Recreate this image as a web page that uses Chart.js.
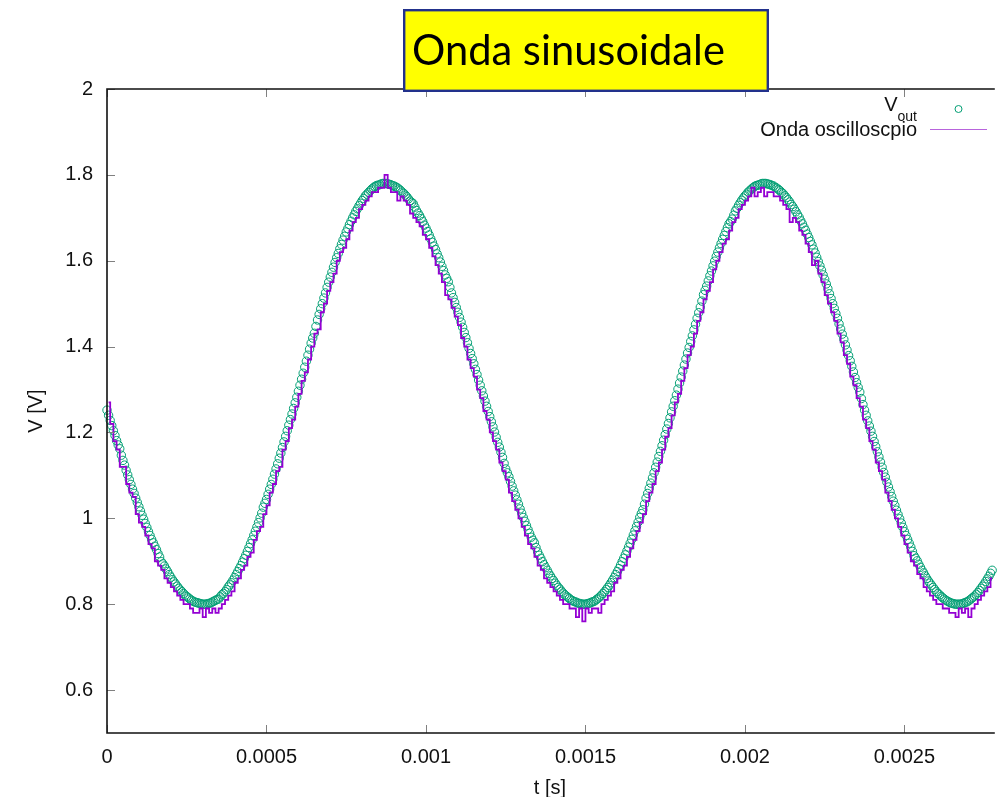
<!DOCTYPE html>
<html><head><meta charset="utf-8">
<script src="https://cdn.jsdelivr.net/npm/chart.js@4.4.1/dist/chart.umd.min.js"></script>
<style>
html,body{margin:0;padding:0;background:#fff;overflow:hidden;}
#c{display:block;}
</style></head>
<body>
<canvas id="c" width="998" height="797"></canvas>
<script>
// ---- data ----
const chartTitle = 'Onda sinusoidale';
const xTitle = 't [s]';
const yTitle = 'V [V]';
const seriesNames = ['V_out', 'Onda oscilloscpio'];
const vOutStepS = 0.000005;       // V_out sampling step (s)
const scopeStepS = 0.00001;       // scope trace sampling step (s)
const scopeOffsetS = 0.000005;    // scope trace first sample (s)
const xTickStep = 0.0005;
const yTickStep = 0.2;
const xRange = [0, 0.002777];
const yRange = [0.5, 2];

// V_out samples (V), t = 0, 5us, 10us ...
const vOut = [
1.252,1.240,1.228,1.216,1.204,1.193,1.181,1.171,1.162,1.147,
1.135,1.124,1.112,1.101,1.090,1.079,1.068,1.058,1.047,1.037,
1.027,1.017,1.007,0.998,0.988,0.979,0.969,0.960,0.951,0.943,
0.935,0.927,0.918,0.910,0.899,0.894,0.889,0.882,0.876,0.869,
0.863,0.857,0.852,0.847,0.842,0.837,0.833,0.829,0.825,0.821,
0.818,0.815,0.812,0.809,0.807,0.805,0.804,0.803,0.802,0.801,
0.800,0.800,0.800,0.801,0.802,0.803,0.805,0.807,0.809,0.811,
0.812,0.817,0.822,0.825,0.829,0.834,0.840,0.845,0.850,0.856,
0.862,0.869,0.876,0.883,0.890,0.898,0.906,0.914,0.923,0.932,
0.941,0.950,0.960,0.970,0.980,0.990,1.001,1.012,1.026,1.035,
1.044,1.056,1.068,1.079,1.091,1.103,1.115,1.127,1.140,1.152,
1.165,1.178,1.191,1.204,1.217,1.230,1.243,1.256,1.269,1.282,
1.296,1.310,1.324,1.338,1.352,1.366,1.380,1.394,1.408,1.420,
1.431,1.447,1.462,1.475,1.488,1.500,1.513,1.525,1.538,1.550,
1.562,1.573,1.585,1.596,1.607,1.617,1.628,1.638,1.648,1.657,
1.667,1.675,1.684,1.692,1.700,1.707,1.715,1.721,1.728,1.734,
1.740,1.745,1.751,1.755,1.759,1.763,1.767,1.770,1.773,1.775,
1.776,1.777,1.779,1.780,1.780,1.780,1.779,1.778,1.777,1.775,
1.774,1.772,1.770,1.767,1.764,1.760,1.757,1.753,1.749,1.744,
1.739,1.736,1.733,1.725,1.717,1.711,1.705,1.698,1.691,1.683,
1.676,1.668,1.660,1.651,1.643,1.634,1.626,1.616,1.607,1.597,
1.587,1.577,1.567,1.559,1.551,1.538,1.525,1.514,1.503,1.491,
1.480,1.468,1.457,1.445,1.433,1.421,1.409,1.396,1.384,1.372,
1.360,1.347,1.335,1.322,1.310,1.297,1.285,1.273,1.261,1.249,
1.237,1.225,1.213,1.201,1.189,1.177,1.166,1.154,1.142,1.128,
1.115,1.106,1.097,1.086,1.075,1.064,1.054,1.043,1.033,1.022,
1.012,1.002,0.993,0.983,0.974,0.965,0.956,0.949,0.943,0.932,
0.922,0.914,0.907,0.899,0.892,0.885,0.879,0.872,0.866,0.860,
0.855,0.849,0.844,0.839,0.835,0.830,0.826,0.822,0.819,0.816,
0.813,0.810,0.808,0.806,0.805,0.803,0.802,0.801,0.800,0.800,
0.800,0.801,0.802,0.803,0.805,0.806,0.808,0.811,0.814,0.817,
0.821,0.825,0.829,0.834,0.839,0.844,0.850,0.856,0.862,0.869,
0.876,0.883,0.891,0.899,0.907,0.915,0.924,0.933,0.942,0.951,
0.961,0.971,0.981,0.991,1.002,1.011,1.020,1.033,1.047,1.058,
1.070,1.082,1.094,1.106,1.119,1.131,1.144,1.156,1.169,1.182,
1.195,1.208,1.221,1.234,1.248,1.261,1.274,1.287,1.301,1.315,
1.329,1.343,1.357,1.371,1.385,1.398,1.412,1.425,1.439,1.452,
1.466,1.479,1.492,1.506,1.521,1.531,1.541,1.553,1.565,1.576,
1.588,1.599,1.610,1.620,1.630,1.640,1.650,1.659,1.668,1.677,
1.686,1.691,1.697,1.706,1.716,1.722,1.729,1.735,1.741,1.746,
1.751,1.755,1.760,1.763,1.767,1.770,1.773,1.775,1.776,1.777,
1.779,1.780,1.780,1.780,1.779,1.778,1.777,1.775,1.774,1.771,
1.769,1.766,1.763,1.759,1.756,1.751,1.747,1.742,1.737,1.731,
1.726,1.720,1.714,1.707,1.701,1.693,1.686,1.678,1.671,1.662,
1.654,1.645,1.637,1.627,1.618,1.608,1.598,1.588,1.578,1.567,
1.557,1.546,1.535,1.523,1.512,1.500,1.489,1.477,1.466,1.453,
1.441,1.429,1.417,1.404,1.392,1.379,1.367,1.354,1.341,1.328,
1.316,1.305,1.294,1.279,1.265,1.252,1.240,1.227,1.215,1.203,
1.191,1.179,1.167,1.155,1.143,1.131,1.119,1.107,1.096,1.084,
1.073,1.062,1.051,1.040,1.030,1.019,1.009,0.999,0.989,0.979,
0.969,0.960,0.951,0.942,0.933,0.923,0.913,0.907,0.901,0.893,
0.886,0.879,0.873,0.866,0.860,0.854,0.849,0.844,0.839,0.834,
0.829,0.825,0.822,0.818,0.815,0.812,0.809,0.807,0.805,0.803,
0.802,0.801,0.800,0.800,0.800,0.800,0.801,0.802,0.804,0.805,
0.807,0.810,0.813,0.816,0.819,0.823,0.827,0.832,0.837,0.842,
0.847,0.853,0.859,0.865,0.872,0.879
];

// oscilloscope trace (V), t = 5us, 15us, 25us ...
const scope = [
1.27,1.22,1.18,1.16,1.12,1.12,1.08,1.06,1.05,1.01,
0.99,0.98,0.96,0.94,0.93,0.90,0.89,0.88,0.86,0.85,
0.84,0.83,0.82,0.81,0.80,0.80,0.79,0.78,0.78,0.79,
0.77,0.79,0.78,0.79,0.78,0.79,0.80,0.81,0.82,0.83,
0.85,0.86,0.88,0.89,0.91,0.92,0.95,0.97,0.98,1.01,
1.03,1.06,1.08,1.11,1.12,1.16,1.18,1.21,1.23,1.26,
1.29,1.32,1.34,1.37,1.40,1.43,1.44,1.48,1.50,1.53,
1.55,1.57,1.60,1.62,1.63,1.65,1.67,1.69,1.70,1.72,
1.73,1.74,1.75,1.76,1.76,1.77,1.77,1.80,1.77,1.76,
1.76,1.74,1.75,1.74,1.73,1.71,1.70,1.69,1.68,1.66,
1.65,1.63,1.61,1.59,1.57,1.55,1.52,1.51,1.49,1.47,
1.45,1.42,1.40,1.37,1.35,1.33,1.30,1.28,1.25,1.23,
1.20,1.18,1.16,1.13,1.11,1.09,1.06,1.04,1.02,1.00,
0.98,0.96,0.94,0.93,0.91,0.89,0.88,0.86,0.85,0.84,
0.83,0.82,0.81,0.80,0.80,0.79,0.79,0.77,0.79,0.76,
0.79,0.78,0.79,0.79,0.78,0.80,0.81,0.82,0.83,0.85,
0.86,0.88,0.89,0.91,0.93,0.95,0.97,0.99,1.01,1.04,
1.06,1.08,1.11,1.13,1.16,1.19,1.21,1.24,1.27,1.29,
1.32,1.35,1.38,1.40,1.43,1.46,1.48,1.51,1.53,1.55,
1.58,1.60,1.62,1.64,1.65,1.67,1.69,1.70,1.72,1.73,
1.74,1.75,1.77,1.75,1.76,1.77,1.75,1.76,1.76,1.75,
1.75,1.74,1.73,1.72,1.69,1.70,1.69,1.67,1.66,1.64,
1.62,1.59,1.60,1.57,1.55,1.52,1.50,1.48,1.46,1.43,
1.41,1.38,1.36,1.33,1.31,1.28,1.26,1.23,1.21,1.18,
1.16,1.13,1.11,1.09,1.06,1.04,1.02,1.00,0.98,0.96,
0.94,0.92,0.90,0.89,0.87,0.86,0.84,0.83,0.82,0.81,
0.80,0.80,0.79,0.79,0.78,0.78,0.77,0.79,0.78,0.79,
0.77,0.79,0.80,0.81,0.82,0.83,0.84,0.86
];

// ---- styles ----
const GREEN = '#009e73';
const PURPLE = '#9400d3';
const KEY_PURPLE = '#b864dc';
const FONT = '"Liberation Sans", Arial, Helvetica, sans-serif';

const vOutPts = vOut.map((v, i) => ({x: i * vOutStepS, y: v}));
const scopePts = scope.map((v, i) => ({x: scopeOffsetS + i * scopeStepS, y: v}));

const decor = {
  id: 'decor',
  afterDatasetsDraw(chart) {
    const {ctx, chartArea: a, scales: {x, y}} = chart;
    ctx.save();
    // inward tick marks (gnuplot style, mirrored on top)
    ctx.strokeStyle = '#808080';
    ctx.lineWidth = 1;
    ctx.beginPath();
    x.ticks.forEach(t => {
      const px = Math.round(x.getPixelForValue(t.value)) + 0.5;
      ctx.moveTo(px, a.bottom); ctx.lineTo(px, a.bottom - 8);
      ctx.moveTo(px, a.top); ctx.lineTo(px, a.top + 8);
    });
    y.ticks.forEach(t => {
      const py = Math.round(y.getPixelForValue(t.value)) + 0.5;
      ctx.moveTo(a.left, py); ctx.lineTo(a.left + 8, py);
    });
    ctx.stroke();
    // border (right side lies outside the picture)
    ctx.strokeStyle = '#111';
    ctx.lineWidth = 1.6;
    ctx.beginPath();
    ctx.moveTo(a.right + 2, a.top);
    ctx.lineTo(a.left, a.top);
    ctx.lineTo(a.left, a.bottom);
    ctx.lineTo(a.right + 2, a.bottom);
    ctx.stroke();
    // key (top right, gnuplot style)
    const kx = 917;
    ctx.fillStyle = '#111';
    ctx.textAlign = 'right';
    ctx.textBaseline = 'alphabetic';
    ctx.font = '14px ' + FONT;
    const wSub = ctx.measureText('out').width;
    ctx.fillText('out', kx, 120.5);
    ctx.font = '20px ' + FONT;
    ctx.fillText('V', kx - wSub, 110.5);
    ctx.fillText(seriesNames[1], kx, 136);
    ctx.strokeStyle = GREEN; ctx.lineWidth = 1;
    ctx.beginPath(); ctx.arc(958.5, 109, 3.5, 0, Math.PI * 2); ctx.stroke();
    ctx.strokeStyle = KEY_PURPLE; ctx.lineWidth = 1;
    ctx.beginPath(); ctx.moveTo(930, 129.5); ctx.lineTo(987, 129.5); ctx.stroke();
    // title box
    ctx.fillStyle = '#ffff00';
    ctx.fillRect(403, 9, 366, 83);
    ctx.strokeStyle = '#22318c'; ctx.lineWidth = 2.4;
    ctx.strokeRect(404.2, 10.2, 363.6, 80.6);
    let fs = 41;
    ctx.font = fs + 'px Lato, "Open Sans", sans-serif';
    const w = ctx.measureText(chartTitle).width;
    fs = fs * 313 / w;
    ctx.font = fs.toFixed(2) + 'px Lato, "Open Sans", sans-serif';
    ctx.fillStyle = '#000';
    ctx.textAlign = 'left';
    ctx.fillText(chartTitle, 412, 65);
    ctx.restore();
  }
};

new Chart(document.getElementById('c'), {
  type: 'scatter',
  data: {
    datasets: [
      {
        label: seriesNames[0],
        data: vOutPts,
        showLine: false,
        pointStyle: 'circle',
        pointRadius: 4.2,
        pointBorderWidth: 1,
        pointBorderColor: GREEN,
        pointBackgroundColor: 'rgba(0,0,0,0)',
        order: 2,
        clip: false
      },
      {
        label: seriesNames[1],
        data: scopePts,
        showLine: true,
        stepped: 'middle',
        borderColor: PURPLE,
        borderWidth: 1.8,
        pointRadius: 0,
        order: 1
      }
    ]
  },
  options: {
    responsive: false,
    animation: false,
    devicePixelRatio: 1,
    events: [],
    layout: {padding: {top: 89, right: 0, bottom: 0, left: 0}},
    plugins: {legend: {display: false}, tooltip: {enabled: false}, title: {display: false}},
    scales: {
      x: {
        type: 'linear',
        min: xRange[0], max: xRange[1],
        grid: {display: false, drawTicks: false},
        border: {display: false},
        ticks: {
          stepSize: xTickStep, includeBounds: false, autoSkip: false, maxRotation: 0,
          padding: 12, color: '#111', font: {family: FONT, size: 20},
          callback: v => String(+v.toFixed(6))
        },
        title: {display: true, text: xTitle, color: '#111', font: {family: FONT, size: 20}, padding: {top: 0, bottom: -3}},
        afterFit: s => { s.height = 64; }
      },
      y: {
        type: 'linear',
        min: yRange[0], max: yRange[1],
        grid: {display: false, drawTicks: false},
        border: {display: false},
        ticks: {
          stepSize: yTickStep, includeBounds: false,
          padding: 14, color: '#111', font: {family: FONT, size: 20},
          callback: v => String(+v.toFixed(4))
        },
        title: {display: true, text: yTitle, color: '#111', font: {family: FONT, size: 20}, padding: {top: 24, bottom: 0}},
        afterFit: s => { s.width = 107; }
      }
    }
  },
  plugins: [decor]
});
</script>
</body></html>
